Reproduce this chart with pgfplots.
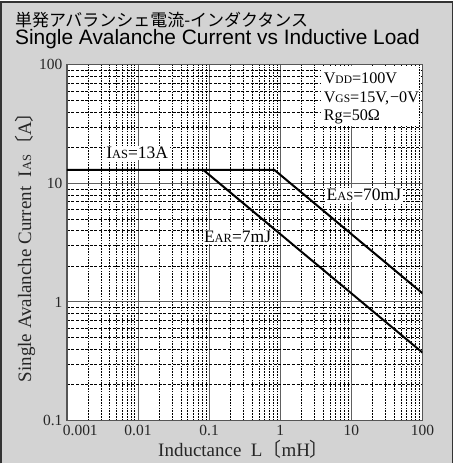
\documentclass[border=0pt]{standalone}
\usepackage{fontspec}
\setmainfont{Liberation Serif}
\newfontfamily\sansf{Liberation Sans}
\newfontfamily\cjk{Noto Sans CJK JP}
\usepackage{pgfplots}
\pgfplotsset{compat=1.18}
\definecolor{panel}{HTML}{D3D3D3}
\definecolor{frame}{HTML}{555555}
\newcommand{\sub}[1]{{\fontsize{12.5}{12.5}\selectfont #1}}
\newcommand{\subs}[1]{{\fontsize{11.5}{11.5}\selectfont #1}}
\newcommand{\lbl}{\fontsize{17.5}{17.5}\selectfont}
\newcommand{\cond}{\fontsize{16.2}{16.2}\selectfont}

\begin{document}
\begin{tikzpicture}[x=1pt,y=1pt]
\path (0,0) rectangle (458,464);
\fill[panel] (1,0) rectangle (453,462);
\draw[line width=1.3pt, black!80] (1,0) -- (1,462) -- (453,462) -- (453,0);
\node[anchor=base west, inner sep=0pt, font=\cjk\fontsize{17}{17}\selectfont] at (15,437) {単発アバランシェ電流-インダクタンス};
\node[anchor=base west, inner sep=0pt, font=\sansf\fontsize{20.9}{20.9}\selectfont] at (15,419) {Single Avalanche Current vs Inductive Load};

\begin{axis}[
  at={(67pt,43pt)}, anchor=south west,
  scale only axis, width=356pt, height=356pt,
  xmode=log, ymode=log,
  xmin=0.001, xmax=100, ymin=0.1, ymax=100,
  axis background/.style={fill=white},
  xtick={0.001,0.01,0.1,1,10,100},
  xticklabels={\makebox[0pt][l]{\kern-4pt 0.001},0.01,0.1,1,10,100},
  ytick={0.1,1,10,100},
  yticklabels={0.1,1,10,100},
  minor xtick={0.002,0.003,0.004,0.005,0.006,0.007,0.008,0.009,
               0.02,0.03,0.04,0.05,0.06,0.07,0.08,0.09,
               0.2,0.3,0.4,0.5,0.6,0.7,0.8,0.9,
               2,3,4,5,6,7,8,9,
               20,30,40,50,60,70,80,90},
  minor ytick={0.2,0.3,0.4,0.5,0.6,0.7,0.8,0.9,
               2,3,4,5,6,7,8,9,
               20,30,40,50,60,70,80,90},
  major tick length=0pt, minor tick length=0pt,
  grid=both,
  major grid style={gray!75!black, line width=1pt},
  minor x grid style={black, line width=0.6pt, dash pattern=on 1.6pt off 1.2pt},
  minor y grid style={black, line width=0.6pt, dash pattern=on 3pt off 1.6pt},
  axis line style={frame, line width=1.2pt},
  tick label style={font=\fontsize{15.5}{15.5}\selectfont, black!85},
  xticklabel style={yshift=-1pt},
  yticklabel style={xshift=-1pt},
  xlabel={Inductance\ \ L{\cjk 〔}mH{\cjk 〕}},
  ylabel={Single Avalanche Current\ \ I\sub{AS}{\cjk 〔}A{\cjk 〕}},
  label style={font=\fontsize{19}{19}\selectfont, black!85},
  xlabel style={at={(rel axis cs:0.497,-0.101)}, anchor=base},
  ylabel style={at={(rel axis cs:-0.118,0.5)}, anchor=center},
]
\addplot[black, line width=2pt] coordinates {(0.001,13) (0.828,13) (100,1.183)};
\addplot[black, line width=2pt] coordinates {(0.0828,13) (100,0.374)};

\fill[white] (rel axis cs:0.716,0.828) rectangle (rel axis cs:0.989,0.997);
\node[anchor=base west, inner sep=0pt, font=\cond] at (rel axis cs:0.722,0.949) {V\subs{DD}=100V};
\node[anchor=base west, inner sep=0pt, font=\cond] at (rel axis cs:0.722,0.893) {V\subs{GS}=15V,\kern1pt−0V};
\node[anchor=base west, inner sep=0pt, font=\cond] at (rel axis cs:0.722,0.843) {Rg=50Ω};

\node[anchor=base west, fill=white, inner sep=1.5pt, font=\lbl] at (rel axis cs:0.106,0.736) {I\sub{AS}=13A};
\node[anchor=base west, fill=white, inner sep=1.5pt, font=\lbl] at (rel axis cs:0.381,0.5) {E\sub{AR}=7mJ};
\node[anchor=base west, fill=white, inner sep=1.5pt, font=\lbl] at (rel axis cs:0.726,0.618) {E\sub{AS}=70mJ};
\end{axis}
\end{tikzpicture}
\end{document}
